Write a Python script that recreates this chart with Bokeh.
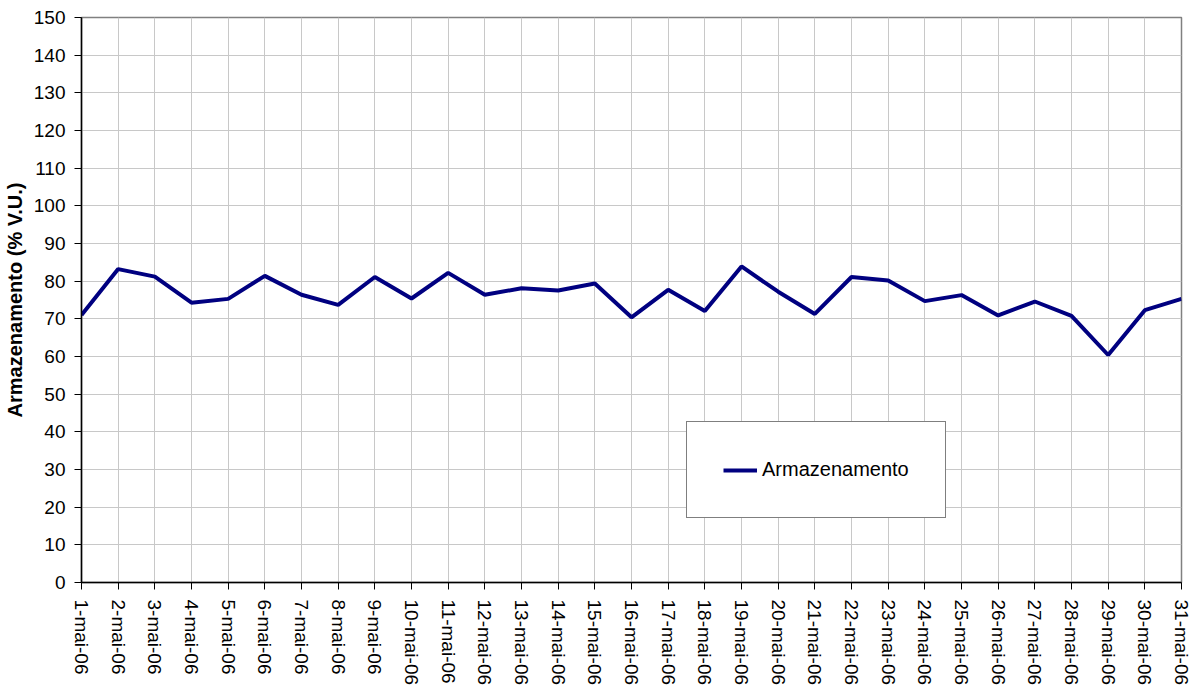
import math
from bokeh.plotting import figure
from bokeh.models import Range1d, FixedTicker, Legend, LegendItem, ColumnDataSource
from bokeh.embed import file_html
from bokeh.resources import INLINE

days = list(range(1, 32))
date_labels = [f"{d}-mai-06" for d in days]
armazenamento = [71.0, 83.2, 81.2, 74.3, 75.3, 81.4, 76.4, 73.7, 81.1, 75.4,
                 82.2, 76.4, 78.1, 77.5, 79.4, 70.4, 77.7, 72.1, 83.9, 77.2,
                 71.3, 81.1, 80.2, 74.7, 76.3, 70.9, 74.6, 70.8, 60.4, 72.3, 75.3]
y_ticks = list(range(0, 151, 10))
series_name = "Armazenamento"
y_title = "Armazenamento (% V.U.)"

FONT = "Liberation Sans"

p = figure(width=1199, height=688, output_backend="svg", toolbar_location=None,
           x_range=Range1d(1, 31), y_range=Range1d(0, 150),
           min_border_left=81, min_border_right=18, min_border_top=17, min_border_bottom=105)

src = ColumnDataSource(dict(x=days, y=armazenamento))
r = p.line("x", "y", source=src, line_color="#000080", line_width=4)

p.xaxis.ticker = FixedTicker(ticks=days)
p.xaxis.major_label_overrides = {d: lab for d, lab in zip(days, date_labels)}
p.xaxis.major_label_orientation = -math.pi / 2
p.yaxis.ticker = FixedTicker(ticks=y_ticks)

for ax in (p.xaxis[0], p.yaxis[0]):
    ax.major_label_text_font = FONT
    ax.major_label_text_font_size = "19px"
    ax.major_label_text_color = "black"
    ax.axis_line_color = "black"
    ax.axis_line_width = 1.5
    ax.major_tick_line_color = "black"
    ax.major_tick_in = 0
    ax.major_tick_out = 7
    ax.minor_tick_line_color = None

p.yaxis.major_label_standoff = 9
p.xaxis.major_label_standoff = 10

p.yaxis.axis_label = y_title
p.yaxis.axis_label_text_font = FONT
p.yaxis.axis_label_text_font_size = "20px"
p.yaxis.axis_label_text_font_style = "bold"
p.yaxis.axis_label_text_color = "black"
p.yaxis.axis_label_standoff = 5

p.xgrid.ticker = FixedTicker(ticks=days)
p.ygrid.ticker = FixedTicker(ticks=y_ticks)
p.xgrid.grid_line_color = "#c8c8c8"
p.ygrid.grid_line_color = "#c8c8c8"
p.xgrid.grid_line_width = 1
p.ygrid.grid_line_width = 1

p.outline_line_color = "#808080"
p.outline_line_width = 1.5
p.background_fill_color = "white"
p.border_fill_color = "white"

legend = Legend(items=[LegendItem(label=series_name, renderers=[r])],
                location=(605, 64), orientation="vertical",
                padding=36, margin=0, spacing=0,
                glyph_width=34, glyph_height=20, label_height=20, label_standoff=5,
                label_text_font=FONT, label_text_font_size="20px", label_text_color="black",
                border_line_color="black", border_line_width=1,
                background_fill_color="white", background_fill_alpha=1)
p.add_layout(legend, "center")

open("out.html", "w").write(file_html(p, INLINE))
